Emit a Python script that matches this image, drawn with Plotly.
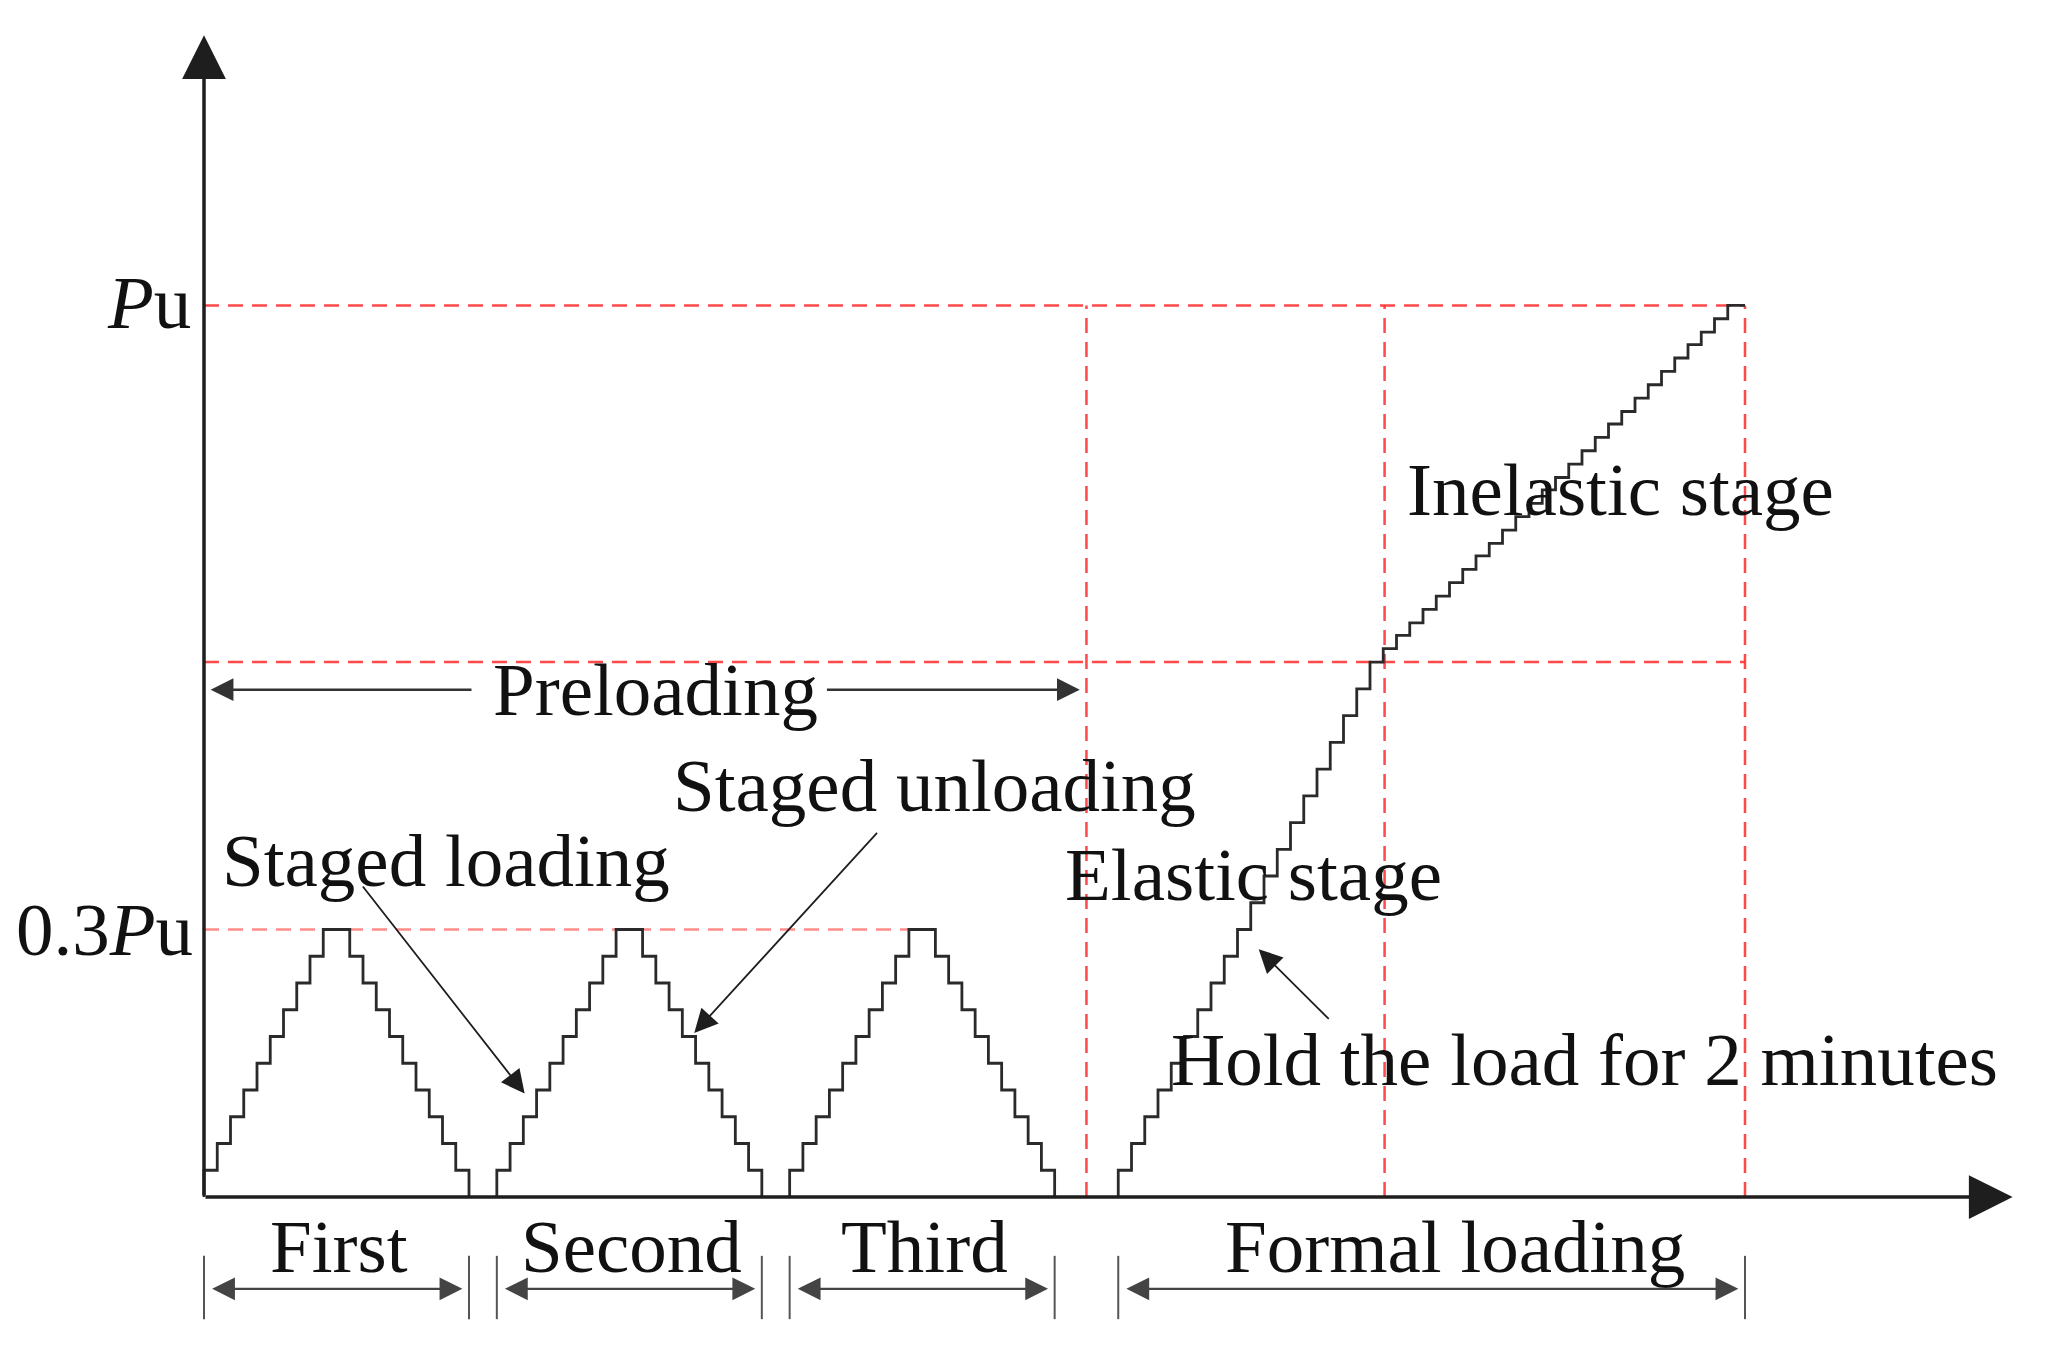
import plotly.graph_objects as go

# Loading protocol: load levels as a fraction of Pu, one entry per load step
PRELOAD_LEVELS = [0.03, 0.06, 0.09, 0.12, 0.15, 0.18, 0.21, 0.24, 0.27, 0.30,
                  0.27, 0.24, 0.21, 0.18, 0.15, 0.12, 0.09, 0.06, 0.03]
ELASTIC_LEVELS = [0.03, 0.06, 0.09, 0.12, 0.15, 0.18, 0.21, 0.24, 0.27, 0.30,
                  0.33, 0.36, 0.39, 0.42, 0.45, 0.48, 0.51, 0.54, 0.57, 0.60]
INELASTIC_LEVELS = [0.615, 0.630, 0.644, 0.659, 0.674, 0.689, 0.704, 0.719, 0.733,
                    0.748, 0.763, 0.778, 0.793, 0.807, 0.822, 0.837, 0.852, 0.867,
                    0.881, 0.896, 0.911, 0.926, 0.941, 0.956, 0.970, 0.985, 1.000]

# times in minutes
HOLD_MIN = 2.0
PEAK_HOLD_MIN = 4.0
FINAL_HOLD_MIN = 2.6
CYCLE_STARTS = [0.0, 44.2, 88.4]
SPAN_NAMES = ["First", "Second", "Third", "Formal loading"]
FORMAL_START = 138.0
PRELOAD_END = 133.2          # dashed boundary preloading / formal loading
ELASTIC_END = 178.2
FORMAL_END = 232.6

PU_LEVELS = [1.0, 0.6]
PRELOAD_PEAK = 0.3

SERIF = "Liberation Serif, Times New Roman, serif"
RED = "rgba(255,40,40,0.85)"
INK = "#1e1e1e"

PX_PER_MIN = 6.625
X0_PX, Y0_PX, PU_PX = 196, 1189, 891.6
W, H = 2062, 1370


def staircase(start, levels, holds, drop=True):
    xs, ys = [start], [0.0]
    t = start
    for lv, h in zip(levels, holds):
        xs.append(t)
        ys.append(lv)
        t += h
    xs.append(t)
    ys.append(0.0 if drop else levels[-1])
    return xs, ys, t


fig = go.Figure()

# dashed red guide lines
gx, gy = [], []
for lv in PU_LEVELS:
    gx += [0, FORMAL_END, None]
    gy += [lv, lv, None]
for xv in [PRELOAD_END, ELASTIC_END, FORMAL_END]:
    gx += [xv, xv, None]
    gy += [0, 1.0, None]
fig.add_trace(go.Scatter(x=gx, y=gy, mode="lines", hoverinfo="skip",
                         line=dict(color=RED, width=2.5, dash="15px,9px")))
peak_mid = CYCLE_STARTS[-1] + HOLD_MIN * 9 + PEAK_HOLD_MIN / 2
fig.add_trace(go.Scatter(x=[0, peak_mid], y=[PRELOAD_PEAK, PRELOAD_PEAK], mode="lines",
                         hoverinfo="skip",
                         line=dict(color="rgba(255,90,90,0.7)", width=2.5, dash="15px,9px")))

# preloading cycles
preload_holds = [HOLD_MIN] * 9 + [PEAK_HOLD_MIN] + [HOLD_MIN] * 9
sx, sy = [], []
spans = []
for s in CYCLE_STARTS:
    xs, ys, end = staircase(s, PRELOAD_LEVELS, preload_holds)
    sx += xs + [None]
    sy += ys + [None]
    spans.append((s, end))

# formal loading
formal_levels = ELASTIC_LEVELS + INELASTIC_LEVELS
formal_holds = [HOLD_MIN] * (len(formal_levels) - 1) + [FINAL_HOLD_MIN]
xs, ys, end = staircase(FORMAL_START, formal_levels, formal_holds, drop=False)
sx += xs
sy += ys
spans.append((FORMAL_START, end))

fig.add_trace(go.Scatter(x=sx, y=sy, mode="lines", line_shape="hv", hoverinfo="skip",
                         line=dict(color="#2a2a2a", width=2.8)))

# span end ticks below the axis
tx, ty = [], []
for a, b in spans:
    for v in (a, b):
        tx += [v, v, None]
        ty += [-0.066, -0.137, None]
fig.add_trace(go.Scatter(x=tx, y=ty, mode="lines", hoverinfo="skip",
                         line=dict(color="#555555", width=2)))

ann = []


def arrow(x_head, y_head, x_tail, y_tail, width=2.0, size=2.2, both=False, color=INK):
    ann.append(dict(x=x_head, y=y_head, ax=x_tail, ay=y_tail, xref="x", yref="y",
                    axref="x", ayref="y", text="", showarrow=True, arrowhead=2,
                    startarrowhead=2, arrowsize=size, startarrowsize=size,
                    arrowwidth=width, arrowcolor=color,
                    arrowside="end+start" if both else "end"))


def label(x, y, text, anchor="center"):
    ann.append(dict(x=x, y=y, xref="x", yref="y", text=text, showarrow=False,
                    xanchor=anchor, yanchor="middle",
                    font=dict(family=SERIF, size=75, color="#111111")))


# main axes
arrow(0, 1.303, 0, 0, width=3.5, size=2.5)
arrow(273.0, 0, 0, 0, width=3.5, size=2.5)

# y labels
label(-1.6, 1.003, "<i>P</i>u", anchor="right")
label(-1.4, 0.30, "0.3<i>P</i>u", anchor="right")

# preloading span
label(68.2, 0.569, "Preloading")
arrow(1.0, 0.569, 40.6, 0.569, width=2.4, size=1.9, color="#333333")
arrow(PRELOAD_END - 1.0, 0.569, 93.8, 0.569, width=2.4, size=1.9, color="#333333")

# stage notes
label(36.6, 0.377, "Staged loading")
arrow(48.4, 0.116, 23.8, 0.350, width=1.8, size=2.6)
label(110.2, 0.462, "Staged unloading")
arrow(74.0, 0.184, 101.8, 0.410, width=1.8, size=2.6)
label(158.4, 0.362, "Elastic stage")
label(208.4, 0.154, "Hold the load for 2 minutes")
arrow(159.2, 0.278, 170.0, 0.198, width=1.8, size=2.6)
label(213.8, 0.794, "Inelastic stage")

# bottom span arrows
for (a, b), name in zip(spans, SPAN_NAMES):
    cx = (a + b) / 2 + (3.6 if name == "Formal loading" else 0.4)
    label(cx, -0.056, name)
    arrow(b - 1.0, -0.103, a + 1.0, -0.103, width=2.4, size=1.9, both=True, color="#444444")

fig.update_layout(
    width=W, height=H,
    margin=dict(l=0, r=0, t=0, b=0),
    paper_bgcolor="white", plot_bgcolor="white",
    showlegend=False,
    annotations=ann,
    xaxis=dict(visible=False, range=[-X0_PX / PX_PER_MIN, (W - X0_PX) / PX_PER_MIN]),
    yaxis=dict(visible=False, range=[-(H - Y0_PX) / PU_PX, Y0_PX / PU_PX]),
)

fig.write_html("out.html")
